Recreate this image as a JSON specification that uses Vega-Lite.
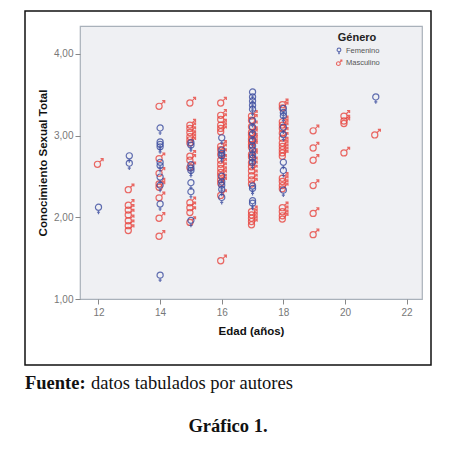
{
  "$schema": "https://vega.github.io/schema/vega-lite/v6.json",
  "background": "white",
  "padding": {"left": 23, "top": 9, "right": 5, "bottom": 5},
  "datasets": {
    "puntos": [
      {"edad": 12, "cst": 2.66, "genero": "Masculino"},
      {"edad": 13, "cst": 2.35, "genero": "Masculino"},
      {"edad": 13, "cst": 2.16, "genero": "Masculino"},
      {"edad": 13, "cst": 2.10, "genero": "Masculino"},
      {"edad": 13, "cst": 2.04, "genero": "Masculino"},
      {"edad": 13, "cst": 1.97, "genero": "Masculino"},
      {"edad": 13, "cst": 1.91, "genero": "Masculino"},
      {"edad": 13, "cst": 1.85, "genero": "Masculino"},
      {"edad": 14, "cst": 3.37, "genero": "Masculino"},
      {"edad": 14, "cst": 2.73, "genero": "Masculino"},
      {"edad": 14, "cst": 2.55, "genero": "Masculino"},
      {"edad": 14, "cst": 2.42, "genero": "Masculino"},
      {"edad": 14, "cst": 2.38, "genero": "Masculino"},
      {"edad": 14, "cst": 2.25, "genero": "Masculino"},
      {"edad": 14, "cst": 2.00, "genero": "Masculino"},
      {"edad": 14, "cst": 1.78, "genero": "Masculino"},
      {"edad": 15, "cst": 3.41, "genero": "Masculino"},
      {"edad": 15, "cst": 3.14, "genero": "Masculino"},
      {"edad": 15, "cst": 3.10, "genero": "Masculino"},
      {"edad": 15, "cst": 3.05, "genero": "Masculino"},
      {"edad": 15, "cst": 3.00, "genero": "Masculino"},
      {"edad": 15, "cst": 2.96, "genero": "Masculino"},
      {"edad": 15, "cst": 2.92, "genero": "Masculino"},
      {"edad": 15, "cst": 2.76, "genero": "Masculino"},
      {"edad": 15, "cst": 2.71, "genero": "Masculino"},
      {"edad": 15, "cst": 2.62, "genero": "Masculino"},
      {"edad": 15, "cst": 2.19, "genero": "Masculino"},
      {"edad": 15, "cst": 2.13, "genero": "Masculino"},
      {"edad": 15, "cst": 2.07, "genero": "Masculino"},
      {"edad": 15, "cst": 1.95, "genero": "Masculino"},
      {"edad": 16, "cst": 3.41, "genero": "Masculino"},
      {"edad": 16, "cst": 3.26, "genero": "Masculino"},
      {"edad": 16, "cst": 3.21, "genero": "Masculino"},
      {"edad": 16, "cst": 3.14, "genero": "Masculino"},
      {"edad": 16, "cst": 3.10, "genero": "Masculino"},
      {"edad": 16, "cst": 3.06, "genero": "Masculino"},
      {"edad": 16, "cst": 2.88, "genero": "Masculino"},
      {"edad": 16, "cst": 2.84, "genero": "Masculino"},
      {"edad": 16, "cst": 2.78, "genero": "Masculino"},
      {"edad": 16, "cst": 2.71, "genero": "Masculino"},
      {"edad": 16, "cst": 2.66, "genero": "Masculino"},
      {"edad": 16, "cst": 2.61, "genero": "Masculino"},
      {"edad": 16, "cst": 2.56, "genero": "Masculino"},
      {"edad": 16, "cst": 2.52, "genero": "Masculino"},
      {"edad": 16, "cst": 2.47, "genero": "Masculino"},
      {"edad": 16, "cst": 2.43, "genero": "Masculino"},
      {"edad": 16, "cst": 2.28, "genero": "Masculino"},
      {"edad": 16, "cst": 1.48, "genero": "Masculino"},
      {"edad": 17, "cst": 3.25, "genero": "Masculino"},
      {"edad": 17, "cst": 3.20, "genero": "Masculino"},
      {"edad": 17, "cst": 3.12, "genero": "Masculino"},
      {"edad": 17, "cst": 3.05, "genero": "Masculino"},
      {"edad": 17, "cst": 3.02, "genero": "Masculino"},
      {"edad": 17, "cst": 2.97, "genero": "Masculino"},
      {"edad": 17, "cst": 2.94, "genero": "Masculino"},
      {"edad": 17, "cst": 2.90, "genero": "Masculino"},
      {"edad": 17, "cst": 2.87, "genero": "Masculino"},
      {"edad": 17, "cst": 2.78, "genero": "Masculino"},
      {"edad": 17, "cst": 2.75, "genero": "Masculino"},
      {"edad": 17, "cst": 2.68, "genero": "Masculino"},
      {"edad": 17, "cst": 2.63, "genero": "Masculino"},
      {"edad": 17, "cst": 2.58, "genero": "Masculino"},
      {"edad": 17, "cst": 2.52, "genero": "Masculino"},
      {"edad": 17, "cst": 2.47, "genero": "Masculino"},
      {"edad": 17, "cst": 2.42, "genero": "Masculino"},
      {"edad": 17, "cst": 2.08, "genero": "Masculino"},
      {"edad": 17, "cst": 2.04, "genero": "Masculino"},
      {"edad": 17, "cst": 2.00, "genero": "Masculino"},
      {"edad": 17, "cst": 1.96, "genero": "Masculino"},
      {"edad": 17, "cst": 1.92, "genero": "Masculino"},
      {"edad": 18, "cst": 3.39, "genero": "Masculino"},
      {"edad": 18, "cst": 3.35, "genero": "Masculino"},
      {"edad": 18, "cst": 3.18, "genero": "Masculino"},
      {"edad": 18, "cst": 3.14, "genero": "Masculino"},
      {"edad": 18, "cst": 3.10, "genero": "Masculino"},
      {"edad": 18, "cst": 3.04, "genero": "Masculino"},
      {"edad": 18, "cst": 2.98, "genero": "Masculino"},
      {"edad": 18, "cst": 2.92, "genero": "Masculino"},
      {"edad": 18, "cst": 2.88, "genero": "Masculino"},
      {"edad": 18, "cst": 2.84, "genero": "Masculino"},
      {"edad": 18, "cst": 2.80, "genero": "Masculino"},
      {"edad": 18, "cst": 2.76, "genero": "Masculino"},
      {"edad": 18, "cst": 2.49, "genero": "Masculino"},
      {"edad": 18, "cst": 2.45, "genero": "Masculino"},
      {"edad": 18, "cst": 2.40, "genero": "Masculino"},
      {"edad": 18, "cst": 2.36, "genero": "Masculino"},
      {"edad": 18, "cst": 2.13, "genero": "Masculino"},
      {"edad": 18, "cst": 2.08, "genero": "Masculino"},
      {"edad": 18, "cst": 2.03, "genero": "Masculino"},
      {"edad": 18, "cst": 1.99, "genero": "Masculino"},
      {"edad": 19, "cst": 3.07, "genero": "Masculino"},
      {"edad": 19, "cst": 2.86, "genero": "Masculino"},
      {"edad": 19, "cst": 2.71, "genero": "Masculino"},
      {"edad": 19, "cst": 2.40, "genero": "Masculino"},
      {"edad": 19, "cst": 2.06, "genero": "Masculino"},
      {"edad": 19, "cst": 1.80, "genero": "Masculino"},
      {"edad": 20, "cst": 3.25, "genero": "Masculino"},
      {"edad": 20, "cst": 3.19, "genero": "Masculino"},
      {"edad": 20, "cst": 3.16, "genero": "Masculino"},
      {"edad": 20, "cst": 2.80, "genero": "Masculino"},
      {"edad": 21, "cst": 3.02, "genero": "Masculino"},
      {"edad": 12, "cst": 2.10, "genero": "Femenino"},
      {"edad": 13, "cst": 2.73, "genero": "Femenino"},
      {"edad": 13, "cst": 2.64, "genero": "Femenino"},
      {"edad": 14, "cst": 3.07, "genero": "Femenino"},
      {"edad": 14, "cst": 2.90, "genero": "Femenino"},
      {"edad": 14, "cst": 2.87, "genero": "Femenino"},
      {"edad": 14, "cst": 2.84, "genero": "Femenino"},
      {"edad": 14, "cst": 2.65, "genero": "Femenino"},
      {"edad": 14, "cst": 2.61, "genero": "Femenino"},
      {"edad": 14, "cst": 2.47, "genero": "Femenino"},
      {"edad": 14, "cst": 2.37, "genero": "Femenino"},
      {"edad": 14, "cst": 2.14, "genero": "Femenino"},
      {"edad": 14, "cst": 1.27, "genero": "Femenino"},
      {"edad": 15, "cst": 2.89, "genero": "Femenino"},
      {"edad": 15, "cst": 2.86, "genero": "Femenino"},
      {"edad": 15, "cst": 2.62, "genero": "Femenino"},
      {"edad": 15, "cst": 2.58, "genero": "Femenino"},
      {"edad": 15, "cst": 2.55, "genero": "Femenino"},
      {"edad": 15, "cst": 2.40, "genero": "Femenino"},
      {"edad": 15, "cst": 2.29, "genero": "Femenino"},
      {"edad": 15, "cst": 1.94, "genero": "Femenino"},
      {"edad": 16, "cst": 2.95, "genero": "Femenino"},
      {"edad": 16, "cst": 2.80, "genero": "Femenino"},
      {"edad": 16, "cst": 2.76, "genero": "Femenino"},
      {"edad": 16, "cst": 2.73, "genero": "Femenino"},
      {"edad": 16, "cst": 2.48, "genero": "Femenino"},
      {"edad": 16, "cst": 2.41, "genero": "Femenino"},
      {"edad": 16, "cst": 2.37, "genero": "Femenino"},
      {"edad": 16, "cst": 2.32, "genero": "Femenino"},
      {"edad": 16, "cst": 2.22, "genero": "Femenino"},
      {"edad": 17, "cst": 3.51, "genero": "Femenino"},
      {"edad": 17, "cst": 3.45, "genero": "Femenino"},
      {"edad": 17, "cst": 3.40, "genero": "Femenino"},
      {"edad": 17, "cst": 3.35, "genero": "Femenino"},
      {"edad": 17, "cst": 3.30, "genero": "Femenino"},
      {"edad": 17, "cst": 3.16, "genero": "Femenino"},
      {"edad": 17, "cst": 3.08, "genero": "Femenino"},
      {"edad": 17, "cst": 3.00, "genero": "Femenino"},
      {"edad": 17, "cst": 2.92, "genero": "Femenino"},
      {"edad": 17, "cst": 2.85, "genero": "Femenino"},
      {"edad": 17, "cst": 2.80, "genero": "Femenino"},
      {"edad": 17, "cst": 2.74, "genero": "Femenino"},
      {"edad": 17, "cst": 2.70, "genero": "Femenino"},
      {"edad": 17, "cst": 2.65, "genero": "Femenino"},
      {"edad": 17, "cst": 2.36, "genero": "Femenino"},
      {"edad": 17, "cst": 2.33, "genero": "Femenino"},
      {"edad": 17, "cst": 2.18, "genero": "Femenino"},
      {"edad": 17, "cst": 2.15, "genero": "Femenino"},
      {"edad": 18, "cst": 3.31, "genero": "Femenino"},
      {"edad": 18, "cst": 3.26, "genero": "Femenino"},
      {"edad": 18, "cst": 3.22, "genero": "Femenino"},
      {"edad": 18, "cst": 3.08, "genero": "Femenino"},
      {"edad": 18, "cst": 2.99, "genero": "Femenino"},
      {"edad": 18, "cst": 2.65, "genero": "Femenino"},
      {"edad": 18, "cst": 2.55, "genero": "Femenino"},
      {"edad": 18, "cst": 2.31, "genero": "Femenino"},
      {"edad": 21, "cst": 3.45, "genero": "Femenino"}
    ]
  },
  "title": {
    "text": "Gráfico 1.",
    "orient": "bottom",
    "anchor": "middle",
    "frame": "bounds",
    "font": "Liberation Serif",
    "fontSize": 18.5,
    "fontWeight": "bold",
    "color": "#111",
    "offset": 13
  },
  "spacing": 7,
  "vconcat": [
    {
      "width": 342,
      "height": 273,
      "view": {"fill": "#eff0f3", "stroke": "#a9b1ba", "strokeWidth": 1.2},
      "layer": [
        {
          "data": {"values": [{}]},
          "mark": {"type": "rect", "fill": null, "stroke": "#111", "strokeWidth": 1.5, "clip": false},
          "encoding": {
            "x": {"value": -55},
            "x2": {"value": 351},
            "y": {"value": -15},
            "y2": {"value": 339}
          }
        },
        {
          "data": {"name": "puntos"},
          "mark": {"type": "point", "filled": false, "strokeWidth": 1.2, "opacity": 0.8, "size": 105},
          "encoding": {
            "x": {
              "field": "edad", "type": "quantitative",
              "scale": {"domain": [11.4, 22.5], "nice": false, "zero": false},
              "axis": {
                "title": "Edad (años)",
                "values": [12, 14, 16, 18, 20, 22],
                "grid": false, "domain": false,
                "tickColor": "#888", "tickSize": 5,
                "labelColor": "#777", "labelFont": "Liberation Sans", "labelFontSize": 10, "labelPadding": 3,
                "titleFont": "Liberation Sans", "titleFontSize": 11.5, "titleFontWeight": "bold", "titleColor": "#111",
                "titlePadding": 8
              }
            },
            "y": {
              "field": "cst", "type": "quantitative",
              "scale": {"domain": [1, 4.34], "nice": false, "zero": false},
              "axis": {
                "title": "Conocimiento Sexual Total",
                "values": [1, 2, 3, 4],
                "labelExpr": "replace(format(datum.value, '.2f'), '.', ',')",
                "grid": false, "domain": false,
                "tickColor": "#888", "tickSize": 5,
                "labelColor": "#777", "labelFont": "Liberation Sans", "labelFontSize": 10, "labelPadding": 2,
                "titleFont": "Liberation Sans", "titleFontSize": 11.5, "titleFontWeight": "bold", "titleColor": "#111",
                "titlePadding": 5
              }
            },
            "color": {
              "field": "genero", "type": "nominal",
              "scale": {"domain": ["Femenino", "Masculino"], "range": ["#3b4c9f", "#e8453f"]},
              "legend": {
                "title": "Género",
                "orient": "none", "legendX": 255, "legendY": 6,
                "titleFont": "Liberation Sans", "titleFontSize": 11, "titleFontWeight": "bold", "titleColor": "#222",
                "titleAnchor": "middle", "titlePadding": 4,
                "labelFont": "Liberation Sans", "labelFontSize": 7.5, "labelColor": "#555",
                "symbolSize": 40, "symbolStrokeWidth": 1.1, "rowPadding": 0, "labelOffset": 3
              }
            },
            "shape": {
              "field": "genero", "type": "nominal",
              "scale": {
                "domain": ["Femenino", "Masculino"],
                "range": [
                  "M-0.6,-0.35 A0.6,0.6 0 1,0 0.6,-0.35 A0.6,0.6 0 1,0 -0.6,-0.35 M0,0.25 L0,1 M-0.3,0.62 L0.3,0.62",
                  "M-0.8,0.2 A0.6,0.6 0 1,0 0.4,0.2 A0.6,0.6 0 1,0 -0.8,0.2 M0.22,-0.22 L0.9,-0.9 M0.4,-0.9 L0.9,-0.9 L0.9,-0.4"
                ]
              },
              "legend": {"title": "Género"}
            }
          }
        }
      ]
    },
    {
      "spacing": 5,
      "hconcat": [
        {
          "width": 1, "height": 1,
          "view": {"stroke": null},
          "data": {"values": [{}]},
          "mark": {"type": "text"},
          "encoding": {"text": {"value": ""}},
          "title": {"text": "Fuente:", "anchor": "start", "dx": -55, "font": "Liberation Serif", "fontSize": 18.5, "fontWeight": "bold", "color": "#111", "offset": 0}
        },
        {
          "width": 1, "height": 1,
          "view": {"stroke": null},
          "data": {"values": [{}]},
          "mark": {"type": "text"},
          "encoding": {"text": {"value": ""}},
          "title": {"text": "datos tabulados por autores", "anchor": "start", "font": "Liberation Serif", "fontSize": 18.5, "fontWeight": "normal", "color": "#111", "offset": 0}
        }
      ]
    }
  ]
}
